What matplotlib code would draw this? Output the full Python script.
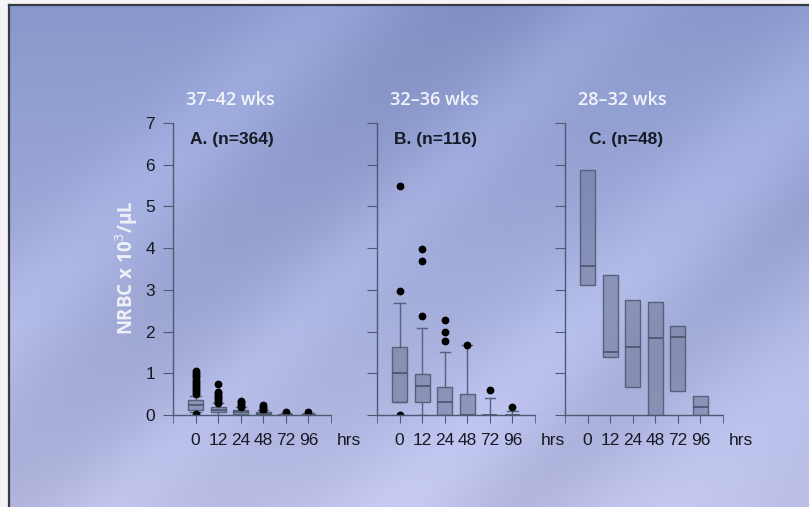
import numpy as np
import matplotlib
matplotlib.use("Agg")
import matplotlib.pyplot as plt

# sampling times shared by all three panels
hours = ["0", "12", "24", "48", "72", "96"]

# A. 37-42 wks (n=364)
a_q1 = [0.12, 0.06, 0.02, 0.00, 0.00, 0.00]
a_med = [0.24, 0.12, 0.07, 0.03, 0.00, 0.00]
a_q3 = [0.36, 0.20, 0.13, 0.07, 0.00, 0.00]
a_lo = [0.06, 0.00, 0.00, 0.00, 0.00, 0.00]
a_hi = [0.45, 0.28, 0.18, 0.12, 0.04, 0.04]
a_out = [
    [0.02, 0.50, 0.55, 0.60, 0.65, 0.70, 0.75, 0.80, 0.85, 0.90, 0.95, 1.00, 1.05],
    [0.28, 0.32, 0.36, 0.40, 0.44, 0.48, 0.52, 0.56, 0.74],
    [0.18, 0.22, 0.26, 0.30, 0.34],
    [0.12, 0.16, 0.20, 0.24],
    [0.07],
    [0.07],
]

# B. 32-36 wks (n=116)
b_q1 = [0.30, 0.32, 0.00, 0.00, 0.00, 0.00]
b_med = [1.00, 0.70, 0.30, 0.00, 0.00, 0.00]
b_q3 = [1.62, 0.98, 0.68, 0.50, 0.00, 0.00]
b_lo = [0.30, 0.00, 0.00, 0.00, 0.00, 0.00]
b_hi = [2.68, 2.08, 1.50, 1.68, 0.40, 0.10]
b_out = [
    [0.00, 2.98, 5.48],
    [2.38, 3.68, 3.98],
    [1.78, 1.98, 2.28],
    [1.68],
    [0.60],
    [0.20],
]

# C. 28-32 wks (n=48)
c_q1 = [3.12, 1.38, 0.66, 0.00, 0.58, 0.00]
c_med = [3.58, 1.52, 1.64, 1.84, 1.88, 0.20]
c_q3 = [5.88, 3.36, 2.76, 2.70, 2.14, 0.46]

panels = [
    ("37\u201342 wks", "A. (n=364)", a_q1, a_med, a_q3, a_lo, a_hi, a_out),
    ("32\u201336 wks", "B. (n=116)", b_q1, b_med, b_q3, b_lo, b_hi, b_out),
    ("28\u201332 wks", "C. (n=48)", c_q1, c_med, c_q3, c_q1, c_q3, [[]] * 6),
]

W, H = 809, 507
fig = plt.figure(figsize=(W / 100, H / 100), dpi=100)
fig.patch.set_facecolor("#f4f4f6")

# soft blue backdrop with diagonal light streaks
bg = fig.add_axes([0, 0, 1, 1])
bg.set_xlim(0, W)
bg.set_ylim(H, 0)
bg.axis("off")
yy, xx = np.mgrid[0:H, 0:W].astype(float)
v = yy / H
top = np.array([136, 151, 204]) / 255
bot = np.array([184, 188, 228]) / 255
img = top[None, None, :] * (1 - v[..., None]) + bot[None, None, :] * v[..., None]
s = xx + yy
light = (0.05 * np.exp(-((s - 330) / 70) ** 2)
         + 0.04 * np.exp(-((s - 620) / 55) ** 2)
         + 0.06 * np.exp(-((s - 900) / 80) ** 2)
         + 0.05 * np.exp(-((s - 1180) / 100) ** 2))
dark = 0.03 * np.exp(-((s - 480) / 90) ** 2) + 0.025 * np.exp(-((s - 1020) / 60) ** 2)
img = np.clip(img + light[..., None] - dark[..., None], 0, 1)
bg.imshow(img[5:, 9:], extent=[9, W, H, 5], aspect="auto", interpolation="bilinear")
bg.plot([9, 9], [H, 5], color="#3a3a44", lw=1.6)
bg.plot([9, W], [5, 5], color="#3a3a44", lw=1.6)

lefts = [173, 377, 565]
ax_w = 158
ax_top, ax_bot = 123, 415
spine_c = "#4e5a72"
text_c = "#151a24"
narrow = ["Liberation Sans Narrow", "Liberation Sans"]
pos = np.arange(1, 7)

for i, (title, tag, q1, med, q3, lo, hi, out) in enumerate(panels):
    ax = fig.add_axes([lefts[i] / W, (H - ax_bot) / H, ax_w / W, (ax_bot - ax_top) / H])
    ax.patch.set_alpha(0)
    stats = [dict(med=med[k], q1=q1[k], q3=q3[k], whislo=lo[k], whishi=hi[k],
                  fliers=out[k]) for k in range(6)]
    ax.bxp(stats, positions=pos, widths=0.66, capwidths=0.45, patch_artist=True,
           showcaps=(i < 2), showfliers=True,
           boxprops=dict(facecolor=(0.42, 0.45, 0.58, 0.55), edgecolor="#56617a", lw=1.0),
           medianprops=dict(color="#4a546c", lw=1.2),
           whiskerprops=dict(color="#56617a", lw=1.0),
           capprops=dict(color="#56617a", lw=1.0),
           flierprops=dict(marker="o", markersize=4.6, markerfacecolor="black",
                           markeredgecolor="black"))
    ax.set_xlim(0, 7)
    ax.set_ylim(0, 7)
    for side in ("top", "right"):
        ax.spines[side].set_visible(False)
    for side in ("left", "bottom"):
        ax.spines[side].set_color(spine_c)
        ax.spines[side].set_linewidth(1.0)
    # labelled ticks at the sampling times, bare ticks at both axis ends
    ax.set_xticks(pos)
    ax.set_xticklabels(hours, fontsize=12.5, color=text_c, family=narrow)
    ax.set_xticks([0, 7], minor=True)
    ax.tick_params(axis="x", which="both", direction="out", length=6, color=spine_c)
    ax.tick_params(axis="x", which="major", pad=7)
    ax.set_yticks(np.arange(0, 8))
    ax.tick_params(axis="y", direction="out", length=7, color=spine_c, pad=6)
    if i == 0:
        ax.set_yticklabels([str(k) for k in range(8)], fontsize=12.5, color=text_c,
                           family=narrow)
    else:
        ax.set_yticklabels([])
    ax.text(7.25, -0.6, "hrs", fontsize=12.5, color=text_c, ha="left", va="center",
            family=narrow, clip_on=False)
    ax.text(0.75 if i < 2 else 1.05, 6.6, tag, fontsize=12.5, fontweight="bold",
            color=text_c, ha="left", va="center", family="Liberation Sans")
    fig.text((lefts[i] + 57) / W, 1 - 100 / H, title, fontsize=13, fontweight="semibold",
             color="#f4f4fb", ha="center", va="center", family="Open Sans")

fig.text(127 / W, 1 - 268 / H, "NRBC x 10$^3$/\u00b5L", rotation=90, fontsize=13.5,
         fontweight="bold", color="#f0f0f8", ha="center", va="center", family="Open Sans")

fig.savefig("out.png", dpi=100)
